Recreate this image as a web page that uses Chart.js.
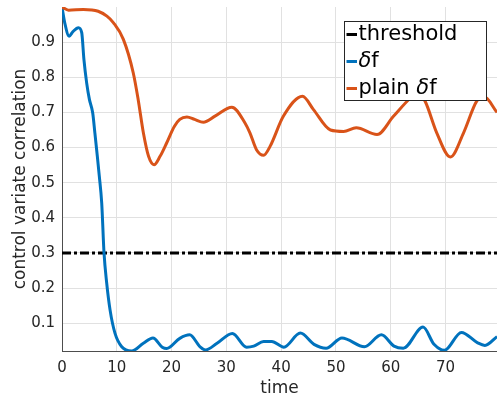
<!DOCTYPE html>
<html>
<head>
<meta charset="utf-8">
<script src="https://cdn.jsdelivr.net/npm/chart.js@4.4.1/dist/chart.umd.min.js"></script>
<style>
  html, body { margin: 0; padding: 0; background: #fff; }
  canvas { display: block; }
</style>
</head>
<body>
<canvas id="chart" width="497" height="399"></canvas>
<script>
// control variate correlation vs time
const threshold = 0.3;

const tDeltaF = [0, 0.5, 1.3, 2.0, 3.0, 3.6, 4.0, 4.5, 5.0, 5.6, 6.0, 6.45, 6.8, 7.25, 7.67, 8.16, 8.77, 9.68, 10.9, 12.7,
    14.85, 16.6, 18.3, 19.1, 21.5, 23.3, 25.2, 26.2, 28.3, 31.1, 33.7, 35.0, 36.8, 38.3, 40.5, 43.5,
    46.0, 48.2, 51.1, 55.2, 58.3, 60.6, 62.3, 65.9, 67.9, 69.8, 72.9, 75.8, 77.2, 79.4];
const deltaF = [1.0, 0.955, 0.917, 0.93, 0.941, 0.927, 0.851, 0.784, 0.737, 0.699, 0.642, 0.575, 0.52, 0.442, 0.3, 0.214, 0.138, 0.071, 0.033, 0.021,
    0.043, 0.058, 0.032, 0.028, 0.057, 0.067, 0.033, 0.024, 0.043, 0.071, 0.032, 0.035, 0.048, 0.048, 0.032, 0.072,
    0.040, 0.029, 0.058, 0.033, 0.067, 0.035, 0.029, 0.089, 0.040, 0.023, 0.074, 0.045, 0.037, 0.062];

const tPlain = [0, 1.2, 3.9, 6.6, 8.2, 9.4, 11.2, 13.0, 13.9, 14.85, 15.8, 16.8, 17.9, 19.1, 20.5, 21.5, 22.8,
    24.2, 25.8, 28.0, 31.0, 33.4, 34.3, 35.5, 36.8, 38.0, 40.4, 43.9, 45.9, 49.0, 51.4, 53.7, 57.5,
    60.5, 63.6, 65.0, 66.3, 68.4, 70.9, 73.3, 75.7, 77.0, 79.4];
const plainDeltaF = [1.0, 0.991, 0.993, 0.988, 0.974, 0.955, 0.908, 0.813, 0.737, 0.642, 0.575, 0.551, 0.575, 0.613, 0.66, 0.68, 0.687,
    0.68, 0.672, 0.69, 0.715, 0.670, 0.642, 0.594, 0.578, 0.604, 0.689, 0.746, 0.708, 0.65, 0.646, 0.656, 0.637,
    0.689, 0.741, 0.757, 0.731, 0.642, 0.573, 0.642, 0.732, 0.745, 0.70];

const xTicks = [0, 10, 20, 30, 40, 50, 60, 70];
const yTicks = [0.1, 0.2, 0.3, 0.4, 0.5, 0.6, 0.7, 0.8, 0.9];

// axis tight: limits follow the data
const xMin = 0;
const xMax = tDeltaF[tDeltaF.length - 1];
const yMin = Math.min(...deltaF, ...plainDeltaF);
const yMax = Math.max(...deltaF, ...plainDeltaF);

const toPoints = (ts, vs) => ts.map((t, i) => ({ x: t, y: vs[i] }));

const FONT = "'DejaVu Sans', sans-serif";
const TEXT = '#262626';

// legend box inside the plot, top right
const legendBox = {
    id: 'legendBox',
    afterDatasetsDraw(chart) {
        const { ctx, chartArea } = chart;
        const w = 143, h = 80;
        const x = chartArea.right - 10 - w;
        const y = chartArea.top + 14;
        ctx.save();
        ctx.fillStyle = '#fff';
        ctx.fillRect(x, y, w, h);
        ctx.strokeStyle = '#262626';
        ctx.lineWidth = 1;
        ctx.strokeRect(x + 0.5, y + 0.5, w - 1, h - 1);

        chart.data.datasets.forEach((ds, i) => {
            const cy = y + 13.5 + i * 27;
            ctx.strokeStyle = ds.borderColor;
            ctx.lineWidth = 3;
            ctx.setLineDash([]);
            ctx.beginPath();
            ctx.moveTo(x + 2.5, cy);
            ctx.lineTo(x + 13, cy);
            ctx.stroke();

            // δ drawn in italic like a TeX symbol
            ctx.fillStyle = '#000';
            ctx.textBaseline = 'middle';
            let tx = x + 14.5;
            ds.label.split(/(δ)/).forEach(part => {
                if (!part) return;
                ctx.font = (part === 'δ' ? 'italic ' : '') + '21px ' + FONT;
                ctx.fillText(part, tx, cy);
                tx += ctx.measureText(part).width;
            });
        });
        ctx.restore();
    }
};

const ctx = document.getElementById('chart').getContext('2d');

new Chart(ctx, {
    type: 'line',
    data: {
        datasets: [
            {
                label: 'threshold',
                data: [{ x: xMin, y: threshold }, { x: xMax, y: threshold }],
                borderColor: '#000000',
                borderWidth: 3,
                borderDash: [9, 3, 3, 3],
                pointRadius: 0,
                order: 3
            },
            {
                label: 'δf',
                data: toPoints(tDeltaF, deltaF),
                borderColor: '#0072BD',
                borderWidth: 3,
                pointRadius: 0,
                cubicInterpolationMode: 'monotone',
                order: 2
            },
            {
                label: 'plain δf',
                data: toPoints(tPlain, plainDeltaF),
                borderColor: '#D95319',
                borderWidth: 3,
                pointRadius: 0,
                cubicInterpolationMode: 'monotone',
                order: 1
            }
        ]
    },
    options: {
        responsive: false,
        animation: false,
        devicePixelRatio: 1,
        layout: { padding: { left: 0, right: 0, top: 7, bottom: 0 } },
        plugins: {
            legend: { display: false },
            tooltip: { enabled: false }
        },
        scales: {
            x: {
                type: 'linear',
                min: xMin,
                max: xMax,
                afterBuildTicks: scale => { scale.ticks = xTicks.map(v => ({ value: v })); },
                afterFit: scale => {
                    scale.height = 48;
                    scale.paddingLeft = 0;
                    scale.paddingRight = 0;
                },
                ticks: {
                    color: TEXT,
                    padding: 8,
                    font: { family: FONT, size: 15 },
                    maxRotation: 0
                },
                grid: { color: '#e1e1e1', drawTicks: false },
                border: { display: true, color: '#4d4d4d', width: 1 },
                title: {
                    display: true,
                    text: 'time',
                    color: TEXT,
                    font: { family: FONT, size: 17 },
                    padding: { top: 0, bottom: 0 }
                }
            },
            y: {
                type: 'linear',
                min: yMin,
                max: yMax,
                afterBuildTicks: scale => { scale.ticks = yTicks.map(v => ({ value: v })); },
                afterFit: scale => {
                    scale.width = 62;
                    scale.paddingTop = 0;
                    scale.paddingBottom = 0;
                },
                ticks: {
                    color: TEXT,
                    padding: 7,
                    font: { family: FONT, size: 15 },
                    callback: v => v.toFixed(1)
                },
                grid: { color: '#e1e1e1', drawTicks: false },
                border: { display: true, color: '#4d4d4d', width: 1 },
                title: {
                    display: true,
                    text: 'control variate correlation',
                    color: TEXT,
                    font: { family: FONT, size: 17 },
                    padding: { top: 10, bottom: 0 }
                }
            }
        }
    },
    plugins: [legendBox]
});
</script>
</body>
</html>
